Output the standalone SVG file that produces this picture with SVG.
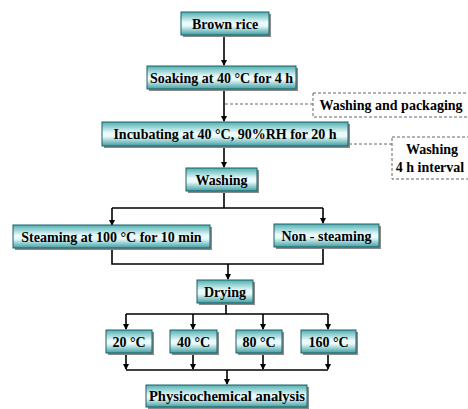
<svg xmlns="http://www.w3.org/2000/svg" width="468" height="409" viewBox="0 0 468 409">
<style>
.box{fill:url(#g);stroke:#1d5f66;stroke-width:1}
.sh{fill:#8a8a8a}
.t{font-family:"Liberation Serif","Times New Roman",serif;font-weight:bold;font-size:14px;fill:#000;text-anchor:middle}
.ln{fill:none;stroke:#000;stroke-width:1.6}
.dl{fill:none;stroke:#666;stroke-width:1;stroke-dasharray:3,2}
</style>
<defs>
<linearGradient id="g" x1="0" y1="0" x2="0" y2="1">
<stop offset="0" stop-color="#4fb0b2"/>
<stop offset="0.45" stop-color="#eafafa"/>
<stop offset="0.6" stop-color="#eafafa"/>
<stop offset="1" stop-color="#3d9fa3"/>
</linearGradient>
<marker id="a" markerWidth="6" markerHeight="6" refX="5" refY="3" orient="auto" markerUnits="userSpaceOnUse">
<path d="M0,0 L6,3 L0,6 Z" fill="#000"/>
</marker>
</defs>
<rect width="468" height="409" fill="#fff"/>
<g id="connectors">
<path class="ln" d="M224,35 V65" marker-end="url(#a)"/>
<path class="ln" d="M224,89 V121" marker-end="url(#a)"/>
<path class="ln" d="M224,146 V167" marker-end="url(#a)"/>
<path class="ln" d="M224,192 V208 M112,208 H323"/>
<path class="ln" d="M112,208 V225" marker-end="url(#a)"/>
<path class="ln" d="M323,208 V223" marker-end="url(#a)"/>
<path class="ln" d="M112,249 V264 H323 V248"/>
<path class="ln" d="M228,264 V279" marker-end="url(#a)"/>
<path class="ln" d="M226,303 V314 M126,314 H328"/>
<path class="ln" d="M126,314 V329" marker-end="url(#a)"/>
<path class="ln" d="M193,314 V329" marker-end="url(#a)"/>
<path class="ln" d="M263,314 V329" marker-end="url(#a)"/>
<path class="ln" d="M328,314 V329" marker-end="url(#a)"/>
<path class="ln" d="M126,353 V369" marker-end="url(#a)"/>
<path class="ln" d="M193,353 V369" marker-end="url(#a)"/>
<path class="ln" d="M263,353 V369" marker-end="url(#a)"/>
<path class="ln" d="M328,353 V369" marker-end="url(#a)"/>
<path class="ln" d="M126,370 H328"/>
<path class="ln" d="M227,370 V384" marker-end="url(#a)"/>
<path class="dl" d="M225,104 H313"/>
<path class="dl" d="M349,144 H392"/>
</g>
<g id="n-brown"><rect class="sh" x="183" y="14" width="88" height="23"/><rect class="box" x="181" y="12" width="88" height="23"/><text class="t" x="225" y="28.5">Brown rice</text></g>
<g id="n-soak"><rect class="sh" x="149" y="68" width="149" height="23"/><rect class="box" x="147" y="66" width="149" height="23"/><text class="t" x="221.5" y="82.5">Soaking at 40 °C for 4 h</text></g>
<g id="n-wp"><rect class="dl" x="313" y="93" width="160" height="24"/><text class="t" x="391" y="109.5">Washing and packaging</text></g>
<g id="n-incub"><rect class="sh" x="104" y="124" width="246" height="24"/><rect class="box" x="102" y="122" width="246" height="24"/><text class="t" x="225" y="139">Incubating at 40 °C, 90%RH for 20 h</text></g>
<g id="n-wi"><rect class="dl" x="392" y="137" width="80" height="42"/><text class="t" x="432" y="154">Washing</text><text class="t" x="430" y="172">4 h interval</text></g>
<g id="n-wash"><rect class="sh" x="188" y="170" width="71" height="23"/><rect class="box" x="186" y="168" width="71" height="23"/><text class="t" x="221.5" y="184.5">Washing</text></g>
<g id="n-steam"><rect class="sh" x="15" y="227" width="197" height="23"/><rect class="box" x="13" y="225" width="197" height="23"/><text class="t" x="111.5" y="241.5">Steaming at 100 °C for 10 min</text></g>
<g id="n-non"><rect class="sh" x="276" y="226" width="105" height="23"/><rect class="box" x="274" y="224" width="105" height="23"/><text class="t" x="326.5" y="240.5">Non - steaming</text></g>
<g id="n-dry"><rect class="sh" x="199" y="282" width="56" height="23"/><rect class="box" x="197" y="280" width="56" height="23"/><text class="t" x="225" y="296.5">Drying</text></g>
<g id="n-20"><rect class="sh" x="108" y="332" width="46" height="23"/><rect class="box" x="106" y="330" width="46" height="23"/><text class="t" x="129" y="346.5">20 °C</text></g>
<g id="n-40"><rect class="sh" x="172" y="332" width="47" height="23"/><rect class="box" x="170" y="330" width="47" height="23"/><text class="t" x="193.5" y="346.5">40 °C</text></g>
<g id="n-80"><rect class="sh" x="238" y="332" width="46" height="23"/><rect class="box" x="236" y="330" width="46" height="23"/><text class="t" x="259" y="346.5">80 °C</text></g>
<g id="n-160"><rect class="sh" x="303" y="332" width="55" height="23"/><rect class="box" x="301" y="330" width="55" height="23"/><text class="t" x="328.5" y="346.5">160 °C</text></g>
<g id="n-phys"><rect class="sh" x="148" y="387" width="161" height="22"/><rect class="box" x="146" y="385" width="161" height="22"/><text class="t" x="227" y="401" style="font-size:14.6px">Physicochemical analysis</text></g>
</svg>
